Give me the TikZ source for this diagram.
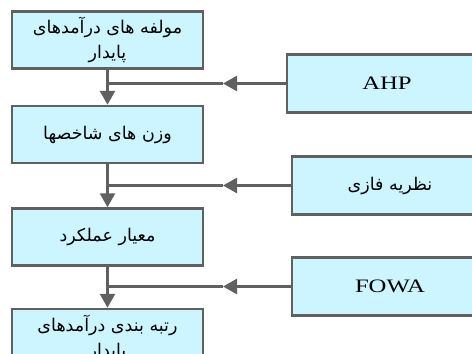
\documentclass[tikz,border=0pt]{standalone}
\usepackage{fontspec}
\usepackage{tikz}
\usepackage{xcolor}
\usetikzlibrary{positioning,arrows.meta}
\TeXXeTstate=1
\newfontfamily\arabicfont[Script=Arabic]{DejaVu Sans}
\newfontfamily\latinfont[FakeStretch=1.3]{Liberation Serif}
\definecolor{boxfill}{HTML}{CCF5FF}
\definecolor{linegray}{HTML}{606060}

\begin{document}
\begin{tikzpicture}[x=1pt, y=1pt, node distance=38pt]
  \tikzset{
    stage/.style={draw=linegray, line width=2.5pt, rectangle, minimum height=57pt, minimum width=191pt, text centered, align=center, fill=boxfill, font=\arabicfont\fontsize{17.5}{25}\selectfont},
    method/.style={draw=linegray, line width=2.5pt, rectangle, minimum height=58pt, minimum width=196pt, text centered, fill=boxfill},
    flow/.style={draw=linegray, line width=2.5pt},
    tip/.style={-{Triangle[length=14pt, width=15pt]}}
  }
  \useasboundingbox (0,0) rectangle (472,-354);
  \clip (0,0) rectangle (472,-354);

  \node[stage, minimum height=57pt, inner sep=2pt] at (107.5,-40) (income) {\beginR مولفه های درآمدهای\endR\\ \beginR پایدار\endR};
  \node[stage, below=35pt of income] (weights) {\beginR وزن های شاخصها\endR};
  \node[stage, below=43pt of weights] (criterion) {\beginR معیار عملکرد\endR};
  \node[stage, below=41pt of criterion, anchor=north, inner sep=2pt] (ranking) {\beginR رتبه بندی درآمدهای\endR\\ \beginR پایدار\endR};

  \node[method, minimum width=200pt, font=\latinfont\fontsize{19}{22}\selectfont] at (387,-83.5) (ahp) {AHP};
  \node[method, font=\arabicfont\fontsize{17.5}{22}\selectfont] at (390,-185.5) (fuzzy) {\beginR نظریه فازی\endR};
  \node[method, font=\latinfont\fontsize{19}{22}\selectfont] at (390,-286.5) (fowa) {FOWA};

  \coordinate (j1) at (108,-83.5);
  \coordinate (j2) at (108,-185.5);
  \coordinate (j3) at (108,-286.5);
  \coordinate (t1) at (223,-83.5);
  \coordinate (t2) at (223,-185.5);
  \coordinate (t3) at (223,-286.5);

  \draw[flow, tip] (income) -- (weights);
  \draw[flow, tip] (weights) -- (criterion);
  \draw[flow, tip] (criterion) -- (ranking);

  \draw[flow, tip] (ahp) -- (t1);
  \draw[flow] (t1) -- (j1);
  \draw[flow, tip] (fuzzy) -- (t2);
  \draw[flow] (t2) -- (j2);
  \draw[flow, tip] (fowa) -- (t3);
  \draw[flow] (t3) -- (j3);
\end{tikzpicture}
\end{document}
